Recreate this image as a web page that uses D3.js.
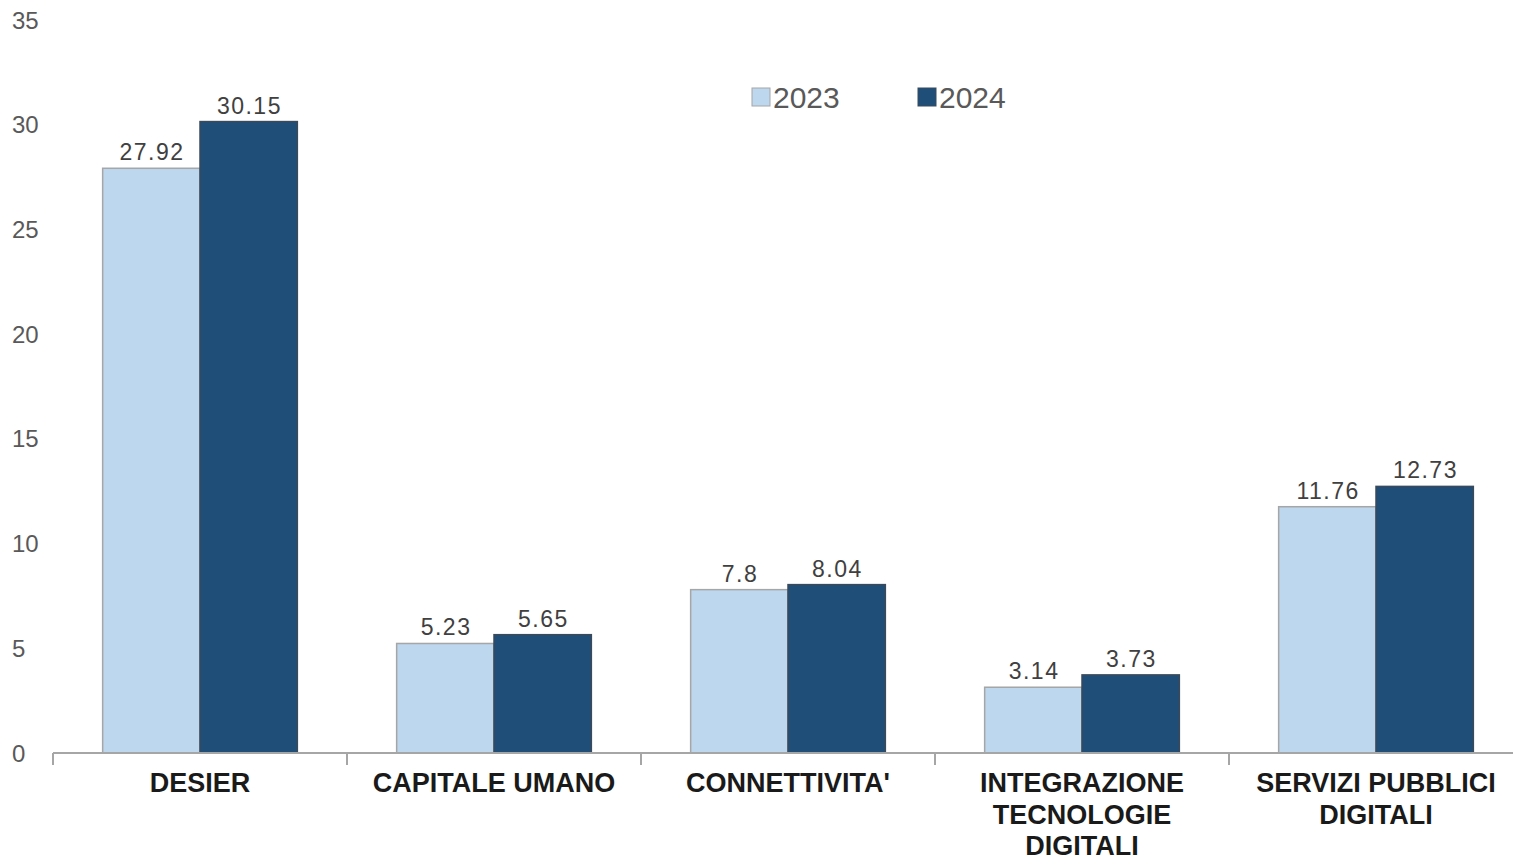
<!DOCTYPE html>
<html>
<head>
<meta charset="utf-8">
<script src="https://cdn.jsdelivr.net/npm/d3@7"></script>
<style>
  body { margin: 0; background: #fff; }
  text { font-family: "Liberation Sans", Arial, sans-serif; }
</style>
</head>
<body>
<div class="chart"></div>
<script>
// categories and series
var categories = ["DESIER", "CAPITALE UMANO", "CONNETTIVITA'", "INTEGRAZIONE TECNOLOGIE DIGITALI", "SERVIZI PUBBLICI DIGITALI"];
var categoryLines = [["DESIER"], ["CAPITALE UMANO"], ["CONNETTIVITA'"], ["INTEGRAZIONE", "TECNOLOGIE", "DIGITALI"], ["SERVIZI PUBBLICI", "DIGITALI"]];
var years = ["2023", "2024"];
var values2023 = [27.92, 5.23, 7.8, 3.14, 11.76];
var values2024 = [30.15, 5.65, 8.04, 3.73, 12.73];
var labels2023 = ["27.92", "5.23", "7.8", "3.14", "11.76"];
var labels2024 = ["30.15", "5.65", "8.04", "3.73", "12.73"];
var yTicks = [0, 5, 10, 15, 20, 25, 30, 35];

var colors = {"2023": "#bdd7ee", "2024": "#1f4e79"};
var strokes = {"2023": "#a6a6a6", "2024": "#3a4a5a"};

var W = 1513, H = 862;
var svg = d3.select(".chart").append("svg").attr("width", W).attr("height", H);

//scales
var y = d3.scaleLinear().domain([0, 35]).range([753, 20]);
var x0 = d3.scaleBand().domain(categories).range([53, 53 + 5 * 294]).padding(0);
var x1 = d3.scaleBand().domain(years).range([0, x0.bandwidth()]).paddingInner(0).paddingOuter(0.51);

// y tick labels (no axis line)
svg.append("g").selectAll("text")
  .data(yTicks)
  .enter().append("text")
  .attr("x", 12)
  .attr("y", function(d) { return y(d); })
  .attr("dy", "0.36em")
  .attr("font-size", 24)
  .attr("fill", "#595959")
  .text(function(d) { return d; });

// build rows
var rows = categories.map(function(c, i) {
  return {cat: c, vals: [
    {year: "2023", v: values2023[i], label: labels2023[i]},
    {year: "2024", v: values2024[i], label: labels2024[i]}
  ]};
});

var groups = svg.selectAll("g.grp")
  .data(rows)
  .enter().append("g")
  .attr("class", "grp")
  .attr("transform", function(d) { return "translate(" + x0(d.cat) + ",0)"; });

groups.selectAll("rect")
  .data(function(d) { return d.vals; })
  .enter().append("rect")
  .attr("x", function(d) { return x1(d.year); })
  .attr("y", function(d) { return y(d.v); })
  .attr("width", x1.bandwidth())
  .attr("height", function(d) { return y(0) - y(d.v); })
  .attr("fill", function(d) { return colors[d.year]; })
  .attr("stroke", function(d) { return strokes[d.year]; })
  .attr("stroke-width", 1.5);

groups.selectAll("text.val")
  .data(function(d) { return d.vals; })
  .enter().append("text")
  .attr("class", "val")
  .attr("x", function(d) { return x1(d.year) + x1.bandwidth() / 2 + 0.75; })
  .attr("y", function(d) { return y(d.v) - 8; })
  .attr("text-anchor", "middle")
  .attr("font-size", 23)
  .attr("letter-spacing", 1.5)
  .attr("fill", "#404040")
  .text(function(d) { return d.label; });

// x axis
var xAxis = d3.axisBottom(x0).tickSize(0).tickFormat("");
var xg = svg.append("g").attr("transform", "translate(0," + y(0) + ")").call(xAxis);
xg.select(".domain").attr("stroke", "#a6a6a6").attr("stroke-width", 2).attr("d", "M53,0H1523");

// tick marks at band boundaries
svg.append("g").selectAll("line")
  .data(categories)
  .enter().append("line")
  .attr("x1", function(d) { return x0(d); })
  .attr("x2", function(d) { return x0(d); })
  .attr("y1", y(0))
  .attr("y2", y(0) + 12)
  .attr("stroke", "#a6a6a6")
  .attr("stroke-width", 2);

// category labels
var catLab = svg.append("g").selectAll("text")
  .data(categories)
  .enter().append("text")
  .attr("x", function(d) { return x0(d) + x0.bandwidth() / 2; })
  .attr("y", 792)
  .attr("text-anchor", "middle")
  .attr("font-size", 27)
  .attr("font-weight", "bold")
  .attr("fill", "#1a1a1a");

catLab.each(function(d, i) {
  var t = d3.select(this);
  categoryLines[i].forEach(function(line, j) {
    t.append("tspan")
      .attr("x", x0(d) + x0.bandwidth() / 2)
      .attr("dy", j === 0 ? 0 : 31.5)
      .text(line);
  });
});

// legend
var legendX = [752, 918];
var legend = svg.append("g").selectAll("g")
  .data(years)
  .enter().append("g")
  .attr("transform", function(d, i) { return "translate(" + legendX[i] + ",88)"; });

legend.append("rect")
  .attr("width", 18).attr("height", 18)
  .attr("fill", function(d) { return colors[d]; })
  .attr("stroke", function(d) { return strokes[d]; });

legend.append("text")
  .attr("x", 21)
  .attr("y", 9)
  .attr("dy", "0.36em")
  .attr("font-size", 30)
  .attr("fill", "#595959")
  .text(function(d) { return d; });
</script>
</body>
</html>
